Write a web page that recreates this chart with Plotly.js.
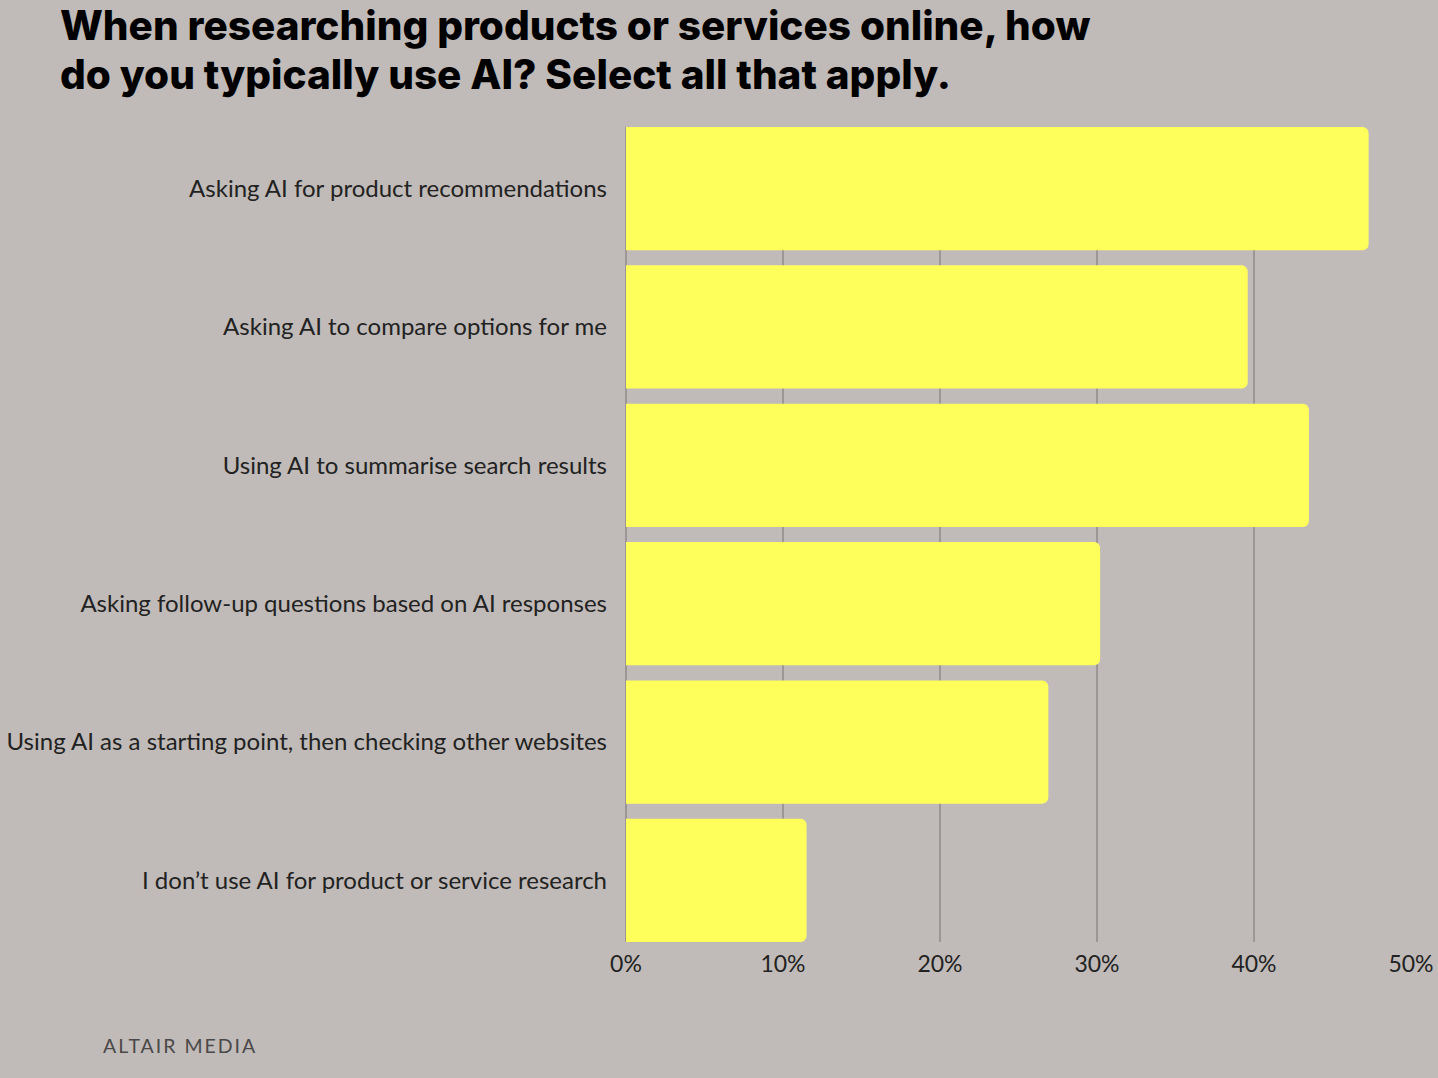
<!DOCTYPE html>
<html>
<head>
<meta charset="utf-8">
<script src="https://cdn.plot.ly/plotly-3.0.1.min.js"></script>
<style>
  html, body { margin: 0; padding: 0; background: #c0bbb8; }
  #chart { width: 1438px; height: 1078px; }
  .brand .annotation-text { letter-spacing: 2px; }
</style>
</head>
<body>
<div id="chart"></div>
<script>
let categories = [
  'Asking AI for product recommendations',
  'Asking AI to compare options for me',
  'Using AI to summarise search results',
  'Asking follow-up questions based on AI responses',
  'Using AI as a starting point, then checking other websites',
  'I don\u2019t use AI for product or service research'
];
let shares = [47.3, 39.6, 43.5, 30.2, 26.9, 11.5];
let tickValues = [0, 10, 20, 30, 40, 50];
let tickLabels = ['0%', '10%', '20%', '30%', '40%', '50%'];
let titleLines = [
  'When researching products or services online, how',
  'do you typically use AI? Select all that apply.'
];

let bg = '#c0bbb8';
let W = 1438, H = 1078;
let m = { l: 626, r: 27, t: 127, b: 136 };
let plotW = W - m.l - m.r;
let plotH = H - m.t - m.b;

// helpers to place annotations by page pixel
function px(x) { return (x - m.l) / plotW; }
function py(y) { return (H - m.b - y) / plotH; }

let trace = {
  type: 'bar',
  orientation: 'h',
  x: shares,
  y: categories,
  marker: { color: '#ffff5c', line: { width: 0 }, cornerradius: 6 },
  hoverinfo: 'skip'
};

let annotations = titleLines.map(function(line, i) {
  return {
    xref: 'paper',
    yref: 'paper',
    x: px(58),
    y: py(25 + i * 50),
    xanchor: 'left',
    yanchor: 'middle',
    showarrow: false,
    text: line,
    font: { family: 'Inter, sans-serif', size: 40.5, weight: 800, color: '#000' }
  };
});

annotations.push({
  xref: 'paper',
  yref: 'paper',
  x: px(113),
  y: py(1045),
  xanchor: 'left',
  yanchor: 'middle',
  showarrow: false,
  text: 'ALTAIR MEDIA',
  font: { family: 'Lato, sans-serif', size: 19.5, color: '#4a4848' }
});

let layout = {
  width: W,
  height: H,
  paper_bgcolor: bg,
  plot_bgcolor: bg,
  showlegend: false,
  bargap: 0.11,
  margin: m,
  xaxis: {
    range: [0, 50],
    tickvals: tickValues,
    ticktext: tickLabels,
    showgrid: true,
    gridcolor: '#9c9796',
    gridwidth: 1.5,
    zeroline: true,
    zerolinecolor: '#9c9796',
    zerolinewidth: 1.5,
    showline: false,
    ticks: '',
    ticklabelstandoff: 6,
    tickfont: { family: 'Lato, sans-serif', size: 23, color: '#222' },
    fixedrange: true
  },
  yaxis: {
    range: [5.445, -0.445],
    showgrid: false,
    zeroline: false,
    ticks: '',
    ticklabelstandoff: 18,
    tickfont: { family: 'Lato, sans-serif', size: 24, color: '#222' },
    fixedrange: true
  },
  annotations: annotations
};

Plotly.newPlot('chart', [trace], layout, { displayModeBar: false, staticPlot: true }).then(function() {
  let notes = document.querySelectorAll('.annotation');
  if(notes.length > 2) {
    notes[2].classList.add('brand');
  }
});
</script>
</body>
</html>
